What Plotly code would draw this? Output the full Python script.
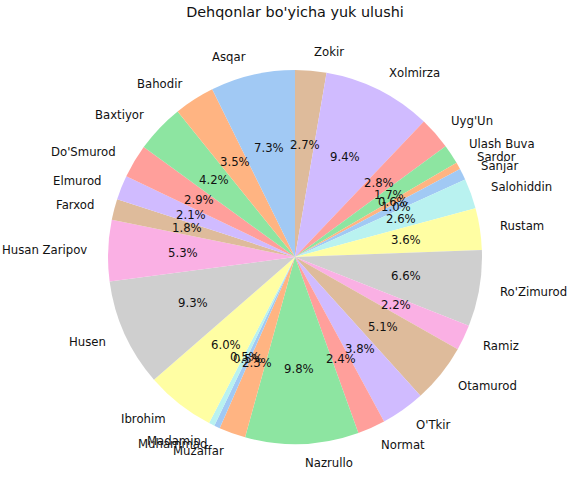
import math
import plotly.graph_objects as go

names = ["Asqar", "Bahodir", "Baxtiyor", "Do'Smurod", "Elmurod", "Farxod",
         "Husan Zaripov", "Husen", "Ibrohim", "Madamin", "Muhammad", "Muzaffar",
         "Nazrullo", "Normat", "O'Tkir", "Otamurod", "Ramiz", "Ro'Zimurod",
         "Rustam", "Salohiddin", "Sanjar", "Sardor", "Ulash Buva", "Uyg'Un",
         "Xolmirza", "Zokir"]
shares = [7.3, 3.5, 4.2, 2.9, 2.1, 1.8, 5.3, 9.3, 6.0, 0.5, 0.5, 2.3,
          9.8, 2.4, 3.8, 5.1, 2.2, 6.6, 3.6, 2.6, 1.0, 0.6, 1.7, 2.8,
          9.4, 2.7]

pastel = ['#a1c9f4', '#ffb482', '#8de5a1', '#ff9f9b', '#d0bbff',
          '#debb9b', '#fab0e4', '#cfcfcf', '#fffea3', '#b9f2f0']
colors = [pastel[i % len(pastel)] for i in range(len(names))]

W, H = 569, 492
cx, cy, r = 295, 257, 187
ml, mr, mt, mb = cx - r, W - (cx + r), cy - r, H - (cy + r)

# matplotlib draws counterclockwise from 12 o'clock; plotly: reverse order, clockwise
fig = go.Figure(go.Pie(
    labels=names[::-1], values=shares[::-1], sort=False, direction='clockwise',
    rotation=0, marker=dict(colors=colors[::-1], line=dict(width=0)),
    textinfo='none', hoverinfo='label+percent', showlegend=False,
    domain=dict(x=[0, 1], y=[0, 1])
))

total = sum(shares)
annotations = []
cum = 0.0
font = dict(family="DejaVu Sans", size=11.7, color="#111111")
for name, v in zip(names, shares):
    theta = math.radians(90 + 360 * (cum + v / 2) / total)
    cum += v
    c, s = math.cos(theta), math.sin(theta)
    annotations.append(dict(
        x=0.5 + 1.1 * c / 2, y=0.5 + 1.1 * s / 2, xref='paper', yref='paper',
        text=name, showarrow=False, font=font,
        xanchor='left' if c > 0 else 'right', yanchor='middle'))
    annotations.append(dict(
        x=0.5 + 0.6 * c / 2, y=0.5 + 0.6 * s / 2, xref='paper', yref='paper',
        text=f"{100 * v / total:.1f}%", showarrow=False, font=font,
        xanchor='center', yanchor='middle'))

fig.update_layout(
    width=W, height=H, margin=dict(l=ml, r=mr, t=mt, b=mb, pad=0),
    paper_bgcolor='white', plot_bgcolor='white',
    title=dict(text="Dehqonlar bo'yicha yuk ulushi", x=cx / W, xanchor='center',
               y=1 - 12 / H, yanchor='middle',
               font=dict(family="DejaVu Sans", size=14.4, color="#111111")),
    annotations=annotations,
)
fig.write_html("out.html", config={'displayModeBar': False},
               post_script="document.body.style.margin='0';document.body.style.overflow='hidden';")
